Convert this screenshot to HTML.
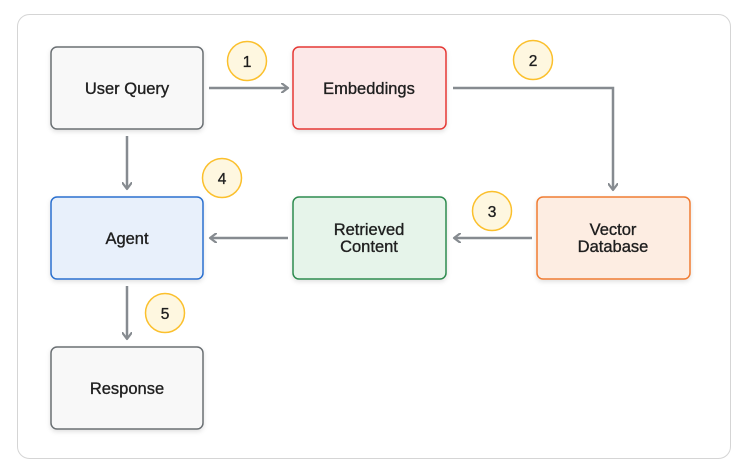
<!DOCTYPE html>
<html><head><style>
html,body{margin:0;padding:0;background:#fff;}
svg{display:block;font-family:"Liberation Sans",sans-serif;}
</style></head><body>
<svg width="744" height="469" viewBox="0 0 744 469" xmlns="http://www.w3.org/2000/svg">
<defs>
<filter id="sh" x="-20%" y="-20%" width="140%" height="150%"><feDropShadow dx="0" dy="2" stdDeviation="2.5" flood-color="#000" flood-opacity="0.12"/></filter>
<marker id="ar" markerWidth="10" markerHeight="10" refX="7" refY="5" orient="auto" markerUnits="userSpaceOnUse"><path d="M1,0.5 L7,5 L1,9.5" fill="none" stroke="#868b90" stroke-width="2.2" stroke-linecap="round" stroke-linejoin="round"/></marker>
</defs>
<rect x="17.5" y="14.5" width="713" height="444" rx="12" fill="#fff" stroke="#d5d5d5"/>
<g stroke="#868b90" stroke-width="2.5" fill="none" marker-end="url(#ar)">
<path d="M209,88 H288"/>
<path d="M453,88 H613 V190"/>
<path d="M532,238 H454"/>
<path d="M288,238 H210"/>
<path d="M127,136 V189"/>
<path d="M127,286 V339"/>
</g>
<g filter="url(#sh)" stroke-width="1.5">
<rect x="51" y="47" width="152" height="82" rx="6" fill="#f8f8f8" stroke="#6b6f73"/>
<rect x="293" y="47" width="153" height="82" rx="6" fill="#fce8e8" stroke="#e53935"/>
<rect x="51" y="197" width="152" height="82" rx="6" fill="#e8f0fb" stroke="#2a6fcf"/>
<rect x="293" y="197" width="153" height="82" rx="6" fill="#e6f4ea" stroke="#2e8b4f"/>
<rect x="537" y="197" width="153" height="82" rx="6" fill="#fdede2" stroke="#f07c33"/>
<rect x="51" y="347" width="152" height="82" rx="6" fill="#f8f8f8" stroke="#6b6f73"/>
</g>
<g font-size="16.5" fill="#1f1f1f" text-anchor="middle" stroke="#1f1f1f" stroke-width="0.35">
<text x="127" y="94">User Query</text>
<text x="369" y="94">Embeddings</text>
<text x="127" y="244">Agent</text>
<text x="369" y="235">Retrieved</text>
<text x="369" y="252">Content</text>
<text x="613" y="235">Vector</text>
<text x="613" y="252">Database</text>
<text x="127" y="394">Response</text>
</g>
<g fill="#fef7e0" stroke="#fbc02d" stroke-width="1.5">
<circle cx="247" cy="61" r="19.5"/>
<circle cx="533" cy="60" r="19.5"/>
<circle cx="222" cy="178" r="19.5"/>
<circle cx="492" cy="211" r="19.5"/>
<circle cx="165" cy="313" r="19.5"/>
</g>
<g font-size="15.5" fill="#1f1f1f" text-anchor="middle" stroke="#1f1f1f" stroke-width="0.35">
<text x="247" y="67">1</text>
<text x="533" y="66">2</text>
<text x="222" y="184">4</text>
<text x="492" y="217">3</text>
<text x="165" y="319">5</text>
</g>
</svg>
</body></html>
